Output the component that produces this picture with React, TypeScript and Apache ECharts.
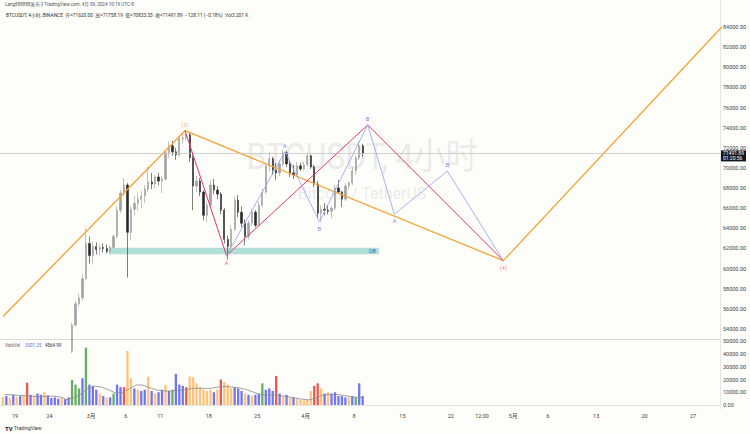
import React, { useEffect, useRef } from "react";
import * as echarts from "echarts";

// time unit: days since Feb 1 2024 00:00 (chart time, UTC-8)
const CANDLE_T0 = 26;
const BAR_DAYS = 0.5;
// 12h candles: [open, high, low, close]
const candles: number[][] = [
  [51800, 54600, 51600, 54400], [54400, 56800, 54200, 56500], [56500, 57500, 56200, 57100], [57100, 59500, 56800, 59000],
  [59000, 64000, 58800, 62500], [62500, 63200, 60500, 61300], [61300, 62700, 60400, 62200], [62200, 62600, 61400, 61900],
  [61900, 62500, 61300, 62100], [62100, 62500, 61600, 62000], [62000, 62400, 61500, 61700], [61700, 62300, 61400, 62100],
  [62100, 63400, 62000, 63200], [63200, 66200, 63000, 65800], [65800, 67800, 65500, 67500], [67500, 69000, 67200, 68300],
  [68300, 68500, 59100, 63600], [63600, 66200, 62800, 65900], [65900, 67200, 65300, 66500], [66500, 67600, 65800, 66900],
  [66900, 67700, 66000, 67200], [67200, 68300, 66500, 67900], [67900, 70100, 67600, 68600], [68600, 69500, 67900, 68400],
  [68400, 69300, 68000, 69100], [69100, 69500, 68300, 68700], [68700, 69200, 67500, 68900], [68900, 71800, 68700, 71500],
  [71500, 72600, 71000, 72200], [72200, 72700, 71200, 71600], [71600, 72000, 70800, 71300], [71300, 73200, 71100, 72900],
  [72900, 73500, 72400, 73000], [73000, 73780, 72700, 73300], [73300, 73500, 70600, 71000], [71000, 71400, 65800, 68200],
  [68200, 69200, 67600, 68700], [68700, 69000, 67200, 67600], [67600, 67800, 64800, 65300], [65300, 66600, 64600, 66300],
  [66300, 68800, 66000, 68300], [68300, 68900, 67400, 67800], [67800, 68200, 66900, 67400], [67400, 67600, 65400, 65800],
  [65800, 66000, 62500, 62900], [62900, 63300, 60900, 62200], [62200, 64300, 62000, 63900], [63900, 67200, 63700, 66800],
  [66800, 67300, 65100, 65600], [65600, 66200, 64100, 64500], [64500, 64900, 62300, 63200], [63200, 64800, 62900, 64500],
  [64500, 65900, 64200, 65600], [65600, 65800, 64100, 64300], [64300, 66700, 64200, 66300], [66300, 67900, 66100, 67600],
  [67600, 70500, 67400, 70200], [70200, 71600, 69700, 70900], [70900, 71100, 69300, 69800], [69800, 70500, 68800, 69500],
  [69500, 70800, 69200, 70400], [70400, 71800, 70100, 71500], [71500, 71700, 70100, 70400], [70400, 70700, 69100, 69500],
  [69500, 70300, 68900, 69300], [69300, 70600, 69100, 70200], [70200, 70500, 69700, 69900], [69900, 70600, 69700, 70300],
  [70300, 71500, 70100, 71200], [71200, 71300, 69900, 70100], [70100, 70300, 68100, 68400], [68400, 68700, 65000, 65500],
  [65500, 66300, 64600, 65900], [65900, 66500, 65300, 65800], [65800, 66300, 65400, 65700], [65700, 66200, 65000, 66000],
  [66000, 68300, 65800, 68000], [68000, 68800, 67400, 67600], [67600, 67700, 66100, 66900], [66900, 68500, 66700, 68200],
  [68200, 68700, 67800, 68500], [68500, 70100, 68300, 69700], [69700, 71200, 69300, 71000], [71000, 72700, 70800, 72200],
  [72200, 72400, 71100, 71491.89],
];

const VOL_T0 = 16;
const volumes = [
  6000, 7000, 5500, 8000, 6500, 7000, 7500, 17500, 8000, 7000, 9000, 8000, 10000, 7500, 5500, 6000, 5000, 5500, 4500, 6000,
  19600, 16000, 13000, 21000, 45000, 16000, 15000, 12000, 9000, 7000, 6000, 6000, 9000, 16000, 14000, 14000, 42400, 21000,
  13000, 12000, 11000, 12000, 22200, 11000, 9000, 10000, 12000, 15700, 11000, 12000, 24400, 16000, 15000, 14000, 22300,
  21600, 17000, 14000, 12000, 11000, 12000, 10000, 12000, 20000, 18000, 16000, 13000, 14000, 13000, 11000, 9000, 8000,
  7000, 8000, 9000, 17000, 12000, 13000, 11000, 22800, 9000, 7000, 8000, 6000, 6000, 5000, 4000, 3500, 4000, 11000, 15000,
  17000, 13000, 9000, 10000, 9000, 10000, 7000, 7000, 6000, 6000, 7000, 6000, 17000, 7000,
];
const volColors =
  "obobobor" + "bobbobbbbobb" + "gggbg" + "bbbobobgbbr" + "oobobbobobbobgbbbr" + "oooooooborooobbbobobbgbbbr" + "bobobooooorrobobbbbbobgb";

const maDays = [
  16.5, 17.5, 18.5, 19.5, 20.5, 21.5, 22.5, 23.5, 24.5, 25.5, 26.5, 27.5, 28.5, 29.5, 30.5, 31.5, 32.5, 33.5, 34.5, 35.5,
  36.5, 37.5, 38.5, 39.5, 40.5, 41.5, 42.5, 43.5, 44.5, 45.5, 46.5, 47.5, 48.5, 49.5, 50.5, 51.5, 52.5, 53.5, 54.5, 55.5,
  56.5, 57.5, 58.5, 59.5, 60.5, 61.5, 62.5, 63.5, 64.5, 65.5, 66.5, 67.5, 68.4,
];
const maValues = [
  8300, 8000, 7600, 7300, 7000, 6600, 6800, 7000, 6400, 4200, 5800, 8500, 13000, 14800, 14000, 12000, 9500, 9800, 12500,
  15700, 15600, 13500, 11800, 11000, 11000, 11500, 12000, 12800, 13200, 13000, 13200, 14200, 14500, 14000, 13300, 12000,
  10000, 8000, 7800, 7800, 7200, 6500, 5500, 4500, 4000, 5500, 7800, 8200, 8300, 7500, 6500, 6000, 5800,
];

const waveLine = [[16.26, 55250], [42.57, 73700], [88.58, 60790], [120.5, 84250]];
const abcLine = [[42.57, 73700], [48.57, 61300], [68.98, 74265], [88.58, 60790]];
const subLine = [[48.57, 61300], [57.03, 71614], [61.99, 64661], [68.98, 74265], [72.83, 65395], [80.49, 69697], [88.58, 60790]];
const obZone = { t1: 31.73, t2: 70.6, low: 61430, high: 62080 };
const lastPrice = 71491.89;
const countdown = "01:20:56";

const priceTicks = [54000, 56000, 58000, 60000, 62000, 64000, 66000, 68000, 70000, 72000, 74000, 76000, 78000, 80000, 82000, 84000];
const volTicks = [0, 10000, 20000, 30000, 40000, 50000];
const timeTicks = [18, 23, 29, 34, 39, 46, 53, 60, 67, 74, 81, 85.5, 90, 95, 102, 109, 116];
const timeLabels = ["19", "24", "3月", "6", "11", "18", "25", "4月", "8", "15", "22", "12:00", "5月", "6", "13", "20", "27"];

const waveLabels = [
  { t: 42.57, p: 73700, text: "(3)", pos: "top", color: "#f2a23a" },
  { t: 88.58, p: 60790, text: "(4)", pos: "bottom", color: "#e8704a" },
];
const abcLabels = [
  { t: 48.57, p: 61300, text: "A", pos: "bottom", color: "#e0407a" },
  { t: 68.98, p: 74265, text: "B", pos: "top", color: "#8050c8" },
];
const subLabels = [
  { t: 57.03, p: 71614, text: "A", pos: "top", color: "#5a78e0" },
  { t: 61.99, p: 64661, text: "B", pos: "bottom", color: "#5a78e0" },
  { t: 72.83, p: 65395, text: "A", pos: "bottom", color: "#5a78e0" },
  { t: 80.49, p: 69697, text: "B", pos: "top", color: "#5a78e0" },
];

const FONT = 'Roboto, "Noto Sans CJK SC", sans-serif';
const X_MIN = 15.83;
const X_MAX = 119.9;
const COLOR_MAP: Record<string, string> = { b: "#7275f2", o: "#ffc27a", g: "#66ad66", r: "#e65a52" };

function labelSeries(items: typeof waveLabels) {
  return {
    type: "scatter",
    xAxisIndex: 0,
    yAxisIndex: 0,
    symbolSize: 1,
    itemStyle: { color: "rgba(0,0,0,0)" },
    silent: true,
    z: 6,
    data: items.map((d) => ({
      value: [d.t, d.p],
      label: {
        show: true,
        formatter: d.text,
        position: d.pos,
        distance: 3,
        color: d.color,
        fontSize: 6,
        fontFamily: FONT,
      },
    })),
  };
}

export default function App() {
  const ref = useRef<HTMLDivElement>(null);
  useEffect(() => {
    document.body.style.margin = "0";
    const chart = echarts.init(ref.current!, null, { renderer: "svg" });
    const candleData = candles.map((c, i) => [CANDLE_T0 + i * BAR_DAYS + BAR_DAYS / 2, c[0], c[3], c[2], c[1]]);
    const volData = volumes.map((v, i) => ({
      value: [VOL_T0 + i * BAR_DAYS + BAR_DAYS / 2, v],
      itemStyle: { color: COLOR_MAP[volColors[i]] || COLOR_MAP.b },
    }));
    const maData = maDays.map((d, i) => [d, maValues[i]]);

    const option: any = {
      animation: false,
      backgroundColor: "#fdfdfa",
      textStyle: { fontFamily: FONT },
      grid: [
        { left: 0, right: 30, top: 0, height: 339 },
        { left: 0, right: 30, top: 341, height: 68 },
      ],
      xAxis: [
        {
          type: "value", gridIndex: 0, min: X_MIN, max: X_MAX,
          axisLine: { show: true, lineStyle: { color: "#d9d9d6", width: 1 } },
          axisTick: { show: false }, axisLabel: { show: false }, splitLine: { show: false },
        },
        {
          type: "value", gridIndex: 1, min: X_MIN, max: X_MAX,
          axisLine: { show: true, lineStyle: { color: "#e3e3e0", width: 1 } },
          axisTick: { show: false },
          splitLine: { show: false },
          axisLabel: {
            customValues: timeTicks,
            fontSize: 5.5,
            color: "#444",
            margin: 4,
            formatter: (v: number) => {
              const k = timeTicks.findIndex((t) => Math.abs(t - v) < 1e-6);
              return k >= 0 ? timeLabels[k] : "";
            },
          },
        },
      ],
      yAxis: [
        {
          type: "value", gridIndex: 0, position: "right", min: 53007, max: 86682,
          axisLine: { show: true, lineStyle: { color: "#e6e6e3" } },
          axisTick: { show: false }, splitLine: { show: false },
          axisLabel: {
            customValues: priceTicks, fontSize: 5.5, color: "#444", margin: 3,
            formatter: (v: number) => v.toFixed(2),
          },
        },
        {
          type: "value", gridIndex: 1, position: "right", min: -3137, max: 50196,
          axisLine: { show: true, lineStyle: { color: "#e6e6e3" } },
          axisTick: { show: false }, splitLine: { show: false },
          axisLabel: {
            customValues: volTicks, fontSize: 5.5, color: "#444", margin: 3,
            formatter: (v: number) => v.toFixed(2),
          },
        },
      ],
      graphic: [
        {
          type: "text", x: 362, y: 156, z: -1, scaleY: 1.15,
          style: { text: "BTCUSDT, 4小时", fill: "rgba(110,110,110,0.15)", fontSize: 32, fontFamily: FONT, textAlign: "center", textVerticalAlign: "middle" },
        },
        {
          type: "text", x: 362, y: 193, z: -1,
          style: { text: "Bitcoin / TetherUS", fill: "rgba(110,110,110,0.15)", fontSize: 16, fontFamily: FONT, textAlign: "center", textVerticalAlign: "middle" },
        },
        {
          type: "text", x: 5, y: 4,
          style: { text: "Lang888888发布于TradingView.com, 4月 09, 2024 10:19 UTC-8", fill: "#555", fontSize: 4.6, fontFamily: FONT, textVerticalAlign: "middle" },
        },
        {
          type: "text", x: 6, y: 15,
          style: { text: "BTCUSDT, 4小时, BINANCE  开=71620.00  高=71758.19  低=70833.33  收=71491.89  −128.11 (−0.18%)  Vol3.201 K", fill: "#333", fontSize: 4.8, fontFamily: FONT, textVerticalAlign: "middle" },
        },
        {
          type: "text", x: 5, y: 345,
          style: { text: "VolxVol", fill: "#555", fontSize: 4.5, fontFamily: FONT, textVerticalAlign: "middle" },
        },
        {
          type: "text", x: 25, y: 345,
          style: { text: "3301.25", fill: "#5a6be8", fontSize: 4.5, fontFamily: FONT, textVerticalAlign: "middle" },
        },
        {
          type: "text", x: 45, y: 345,
          style: { text: "4564.99", fill: "#333", fontSize: 4.5, fontFamily: FONT, textVerticalAlign: "middle" },
        },
        {
          type: "text", x: 5, y: 428,
          style: { text: "TV", fill: "#131722", fontSize: 6, fontWeight: "bold", fontFamily: FONT, textVerticalAlign: "middle" },
        },
        {
          type: "text", x: 14, y: 428,
          style: { text: "TradingView", fill: "#333", fontSize: 5, fontFamily: FONT, textVerticalAlign: "middle" },
        },
      ],
      series: [
        {
          type: "candlestick",
          xAxisIndex: 0, yAxisIndex: 0,
          data: candleData,
          encode: { x: 0, y: [1, 2, 3, 4] },
          barWidth: 1.8,
          clip: true,
          z: 3,
          itemStyle: { color: "#a4a4a4", borderColor: "#9c9c9c", color0: "#2a2a2a", borderColor0: "#2a2a2a", borderWidth: 0.6 },
          markLine: {
            silent: true, symbol: "none",
            lineStyle: { color: "#c4c4c4", type: "solid", width: 0.8 },
            label: {
              position: "end", distance: 1, offset: [0, 3], formatter: lastPrice.toFixed(2) + "\n" + countdown,
              backgroundColor: "#131722", color: "#fff", fontSize: 5, lineHeight: 5, padding: [0.5, 2], fontFamily: FONT,
            },
            data: [{ yAxis: lastPrice }],
          },
        },
        {
          type: "line", xAxisIndex: 0, yAxisIndex: 0, data: waveLine, symbol: "none", z: 4,
          lineStyle: { color: "#f5a332", width: 1.3 },
          markArea: {
            silent: true,
            itemStyle: { color: "rgba(96,196,176,0.5)" },
            label: { show: true, position: "insideRight", formatter: "OB", color: "#3d5fe0", fontSize: 5.5, distance: 3 },
            data: [[{ coord: [obZone.t1, obZone.high] }, { coord: [obZone.t2, obZone.low] }]],
          },
        },
        {
          type: "line", xAxisIndex: 0, yAxisIndex: 0, data: abcLine, symbol: "none", z: 5,
          lineStyle: { color: "#e23a6e", width: 1.0 },
        },
        {
          type: "line", xAxisIndex: 0, yAxisIndex: 0, data: subLine, symbol: "none", z: 5,
          lineStyle: { color: "#8ea3ee", width: 0.8 },
        },
        labelSeries(waveLabels),
        labelSeries(abcLabels),
        labelSeries(subLabels),
        {
          type: "bar", xAxisIndex: 1, yAxisIndex: 1, data: volData, barWidth: 2.3,
        },
        {
          type: "line", xAxisIndex: 1, yAxisIndex: 1, data: maData, symbol: "none", z: 4,
          lineStyle: { color: "#8a8a8a", width: 0.8 },
        },
      ],
    };
    chart.setOption(option);
    return () => chart.dispose();
  }, []);
  return <div ref={ref} style={{ position: "fixed", left: 0, top: 0, width: 750, height: 433 }} />;
}
